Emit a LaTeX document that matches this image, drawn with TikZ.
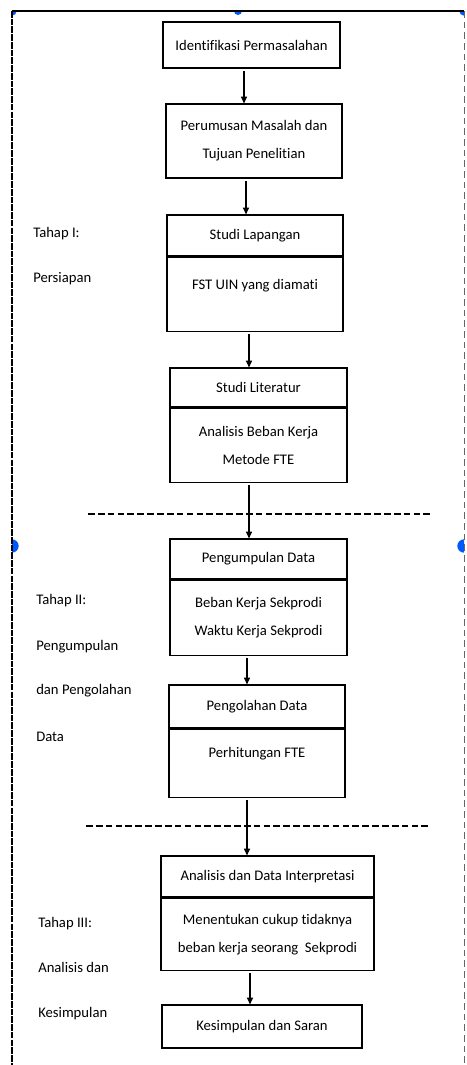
\documentclass[tikz,border=0pt]{standalone}
\usepackage{fontspec}
\setmainfont{Carlito}[Ligatures=CommonOff]
\usetikzlibrary{arrows.meta, positioning}

\begin{document}
\begin{tikzpicture}[
x=0.75pt, y=-0.75pt,
every node/.style={font=\fontsize{11}{21}\selectfont},
box/.style={draw, line width=0.9pt, align=center, inner sep=0pt},
divider/.style={line width=1.8pt},
arr/.style={-{Triangle[length=5pt, width=4.5pt]}, line width=0.8pt, shorten <=2pt},
sepline/.style={line width=0.8pt, dash pattern=on 5pt off 2.4pt},
stage/.style={anchor=base west, inner sep=0pt},
selhandle/.style={fill=blue!65!cyan}
]

\useasboundingbox (0,0) rectangle (467,1065);

% selection handles, only the inner half shows
\begin{scope}
\clip (12,11) rectangle (464,1065);
\foreach \p/\r in {(12,11)/3.5pt, (238,11)/3pt, (464,11)/3.5pt, (12,546)/5pt, (464,546)/5pt} {
\fill[selhandle] \p circle (\r);
}
\end{scope}

% frame of the text box
\draw[line width=1pt] (12,11) -- (464,11);
\draw[line width=1.1pt, dash pattern=on 5pt off 0.8pt] (12,11) -- (12,1065);
\draw[black!60, line width=0.7pt, dash pattern=on 5pt off 3pt] (464,11) -- (464,1065);


% Tahap I
\node[box, minimum width=132.75pt, minimum height=34.5pt] (ident) at (251.5,45) {Identifikasi Permasalahan};

\node[box, minimum width=132pt, minimum height=55.5pt] (rumus) at (254,141) {Perumusan Masalah dan\\Tujuan Penelitian};

\node[box, minimum width=132pt, minimum height=30.75pt] (lapH) at (255,235.5) {Studi Lapangan};
\node[box, minimum width=132pt, minimum height=55.5pt, text depth=14pt, below=0pt of lapH] (lapB) {FST UIN yang diamati};
\draw[divider] (lapH.south west) -- (lapH.south east);

\node[box, minimum width=132.75pt, minimum height=29.25pt] (litH) at (258.5,387.5) {Studi Literatur};
\node[box, minimum width=132.75pt, minimum height=55.5pt, below=0pt of litH] (litB) {Analisis Beban Kerja\\Metode FTE};

\node[stage] (t1a) at (33,237) {Tahap I:};
\node[stage] (t1b) at (33,282) {Persiapan};


\draw[sepline] (88,514) -- (432,514);


% Tahap II
\node[box, minimum width=132.75pt, minimum height=30pt] (kumpH) at (258.5,559) {Pengumpulan Data};
\node[box, minimum width=132.75pt, minimum height=56.25pt, below=0pt of kumpH] (kumpB) {Beban Kerja Sekprodi\\Waktu Kerja Sekprodi};
\draw[divider] (kumpH.south west) -- (kumpH.south east);

\node[box, minimum width=132pt, minimum height=32.25pt] (olahH) at (257,706.5) {Pengolahan Data};
\node[box, minimum width=132pt, minimum height=51pt, text depth=15.8pt, below=0pt of olahH] (olahB) {Perhitungan FTE};
\draw[divider] (olahH.south west) -- (olahH.south east);

\node[stage] (t2a) at (36,604) {Tahap II:};
\node[stage] (t2b) at (36,650) {Pengumpulan};
\node[stage] (t2c) at (36,694) {dan Pengolahan};
\node[stage] (t2d) at (36,741) {Data};


\draw[sepline] (86,826) -- (430,826);


% Tahap III
\node[box, minimum width=159.75pt, minimum height=30.75pt] (anaH) at (267.5,876.5) {Analisis dan Data Interpretasi};
\node[box, minimum width=159.75pt, minimum height=54pt, below=0pt of anaH] (anaB) {Menentukan cukup tidaknya\\beban kerja seorang~~Sekprodi};
\draw[divider] (anaH.south west) -- (anaH.south east);

\node[box, minimum width=150pt, minimum height=32.25pt] (simp) at (262,1026.5) {Kesimpulan dan Saran};

\node[stage] (t3a) at (38,927) {Tahap III:};
\node[stage] (t3b) at (38,972) {Analisis dan};
\node[stage] (t3c) at (38,1017) {Kesimpulan};


% arrows
\draw[arr] ([xshift=-5.625pt]ident.south) -- ([xshift=-7.5pt]rumus.north);
\draw[arr] ([xshift=-6pt]rumus.south) -- ([xshift=-6.75pt]lapH.north);
\draw[arr] ([xshift=-4.5pt]lapB.south) -- ([xshift=-7.125pt]litH.north);
\draw[arr] ([xshift=-7.125pt]litB.south) -- ([xshift=-7.125pt]kumpH.north);
\draw[arr] ([xshift=-8.625pt]kumpB.south) -- ([xshift=-7.5pt]olahH.north);
\draw[arr] ([xshift=-7.5pt]olahB.south) -- ([xshift=-15.375pt]anaH.north);
\draw[arr] ([xshift=-13.125pt]anaB.south) -- ([xshift=-9pt]simp.north);

\end{tikzpicture}
\end{document}
